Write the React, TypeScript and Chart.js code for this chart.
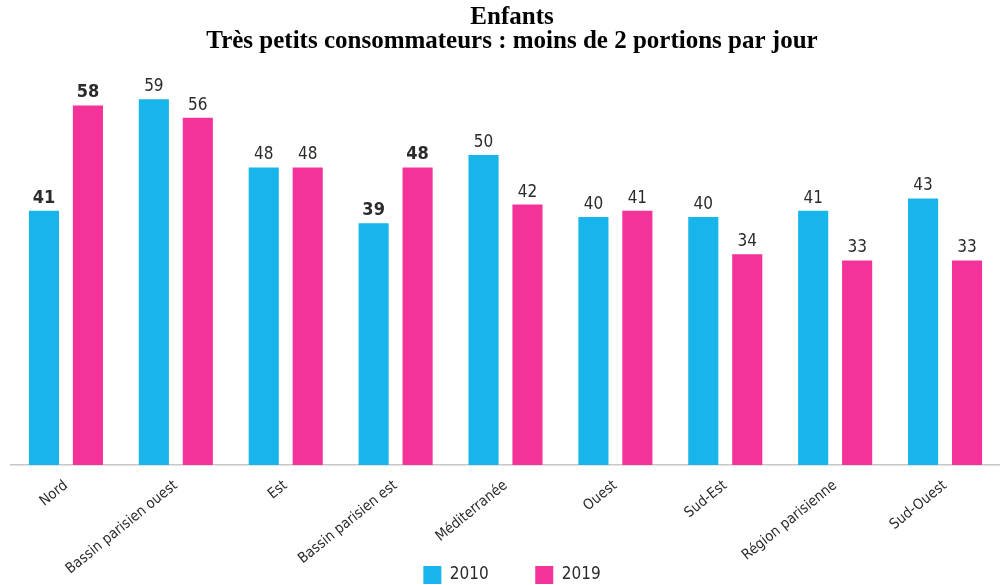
import React, { useEffect, useRef } from "react";
import { Chart, registerables } from "chart.js";

Chart.register(...registerables);

const titleLines = ["Enfants", "Très petits consommateurs : moins de 2 portions par jour"];
const categories = [
  "Nord",
  "Bassin parisien ouest",
  "Est",
  "Bassin parisien est",
  "Méditerranée",
  "Ouest",
  "Sud-Est",
  "Région parisienne",
  "Sud-Ouest",
];
const values2010 = [41, 59, 48, 39, 50, 40, 40, 41, 43];
const values2019 = [58, 56, 48, 48, 42, 41, 34, 33, 33];
const seriesLabels = ["2010", "2019"];
const boldCategories = ["Nord", "Bassin parisien est"];

const CYAN = "#17b5ea";
const PINK = "#f4339a";
const TEXT = "#2b2b2b";
const NARROW = "'Liberation Sans Narrow', 'DejaVu Sans Condensed', 'Arial Narrow', sans-serif";

const valueLabels = {
  id: "valueLabels",
  afterDatasetsDraw(chart: any) {
    const ctx = chart.ctx;
    ctx.save();
    ctx.fillStyle = TEXT;
    ctx.textAlign = "center";
    ctx.textBaseline = "alphabetic";
    chart.data.datasets.forEach((ds: any, di: number) => {
      const meta = chart.getDatasetMeta(di);
      meta.data.forEach((bar: any, i: number) => {
        const bold = boldCategories.includes(categories[i]);
        ctx.font = bold ? `bold 18px ${NARROW}` : `17px ${NARROW}`;
        ctx.fillText(String(ds.data[i]), bar.x, bar.y - 8);
      });
    });
    ctx.restore();
  },
};

// move the legend up so it sits beside the rotated category labels, as in the reference
const legendMover = {
  id: "legendMover",
  afterLayout(chart: any) {
    const lg = chart.legend;
    if (!lg) return;
    const h = lg.height;
    lg.top = 519.5;
    lg.bottom = lg.top + h;
  },
};

export default function App() {
  const ref = useRef<HTMLCanvasElement>(null);
  useEffect(() => {
    if (!ref.current) return;
    const chart = new Chart(ref.current, {
      type: "bar",
      data: {
        labels: categories,
        datasets: [
          {
            label: seriesLabels[0],
            data: values2010,
            backgroundColor: CYAN,
            borderWidth: 0,
            categoryPercentage: 0.8,
            barPercentage: 0.685,
          },
          {
            label: seriesLabels[1],
            data: values2019,
            backgroundColor: PINK,
            borderWidth: 0,
            categoryPercentage: 0.8,
            barPercentage: 0.685,
          },
        ],
      },
      options: {
        animation: false,
        responsive: false,
        maintainAspectRatio: false,
        layout: {
          autoPadding: false,
          padding: { top: 0, left: 11, right: -13, bottom: -69.5 },
        },
        scales: {
          x: {
            grid: { display: false, drawTicks: false },
            border: { display: true, color: "#c8c8c8", width: 1.5 },
            ticks: {
              color: TEXT,
              font: { family: NARROW, size: 14.5 },
              minRotation: 39,
              maxRotation: 39,
              autoSkip: false,
              padding: 12,
            },
            afterFit: (scale: any) => {
              scale.height = 115;
            },
          },
          y: {
            display: false,
            min: 0,
            max: 60,
          },
        },
        plugins: {
          title: {
            display: true,
            text: titleLines,
            color: "#000000",
            font: { family: "'Liberation Serif', 'Times New Roman', serif", size: 25, weight: "bold", lineHeight: 0.96 },
            padding: { top: 6, bottom: 39 },
          },
          legend: {
            display: true,
            position: "bottom",
            labels: {
              boxWidth: 18,
              boxHeight: 18,
              padding: 46.5,
              color: TEXT,
              font: { family: NARROW, size: 17 },
            },
          },
          tooltip: { enabled: false },
        },
      },
      plugins: [valueLabels, legendMover],
    });
    return () => chart.destroy();
  }, []);
  return (
    <div style={{ position: "fixed", left: 0, top: 0, width: 1000, height: 585, background: "#ffffff" }}>
      <canvas ref={ref} width={1000} height={585} style={{ display: "block", width: 1000, height: 585 }} />
    </div>
  );
}
